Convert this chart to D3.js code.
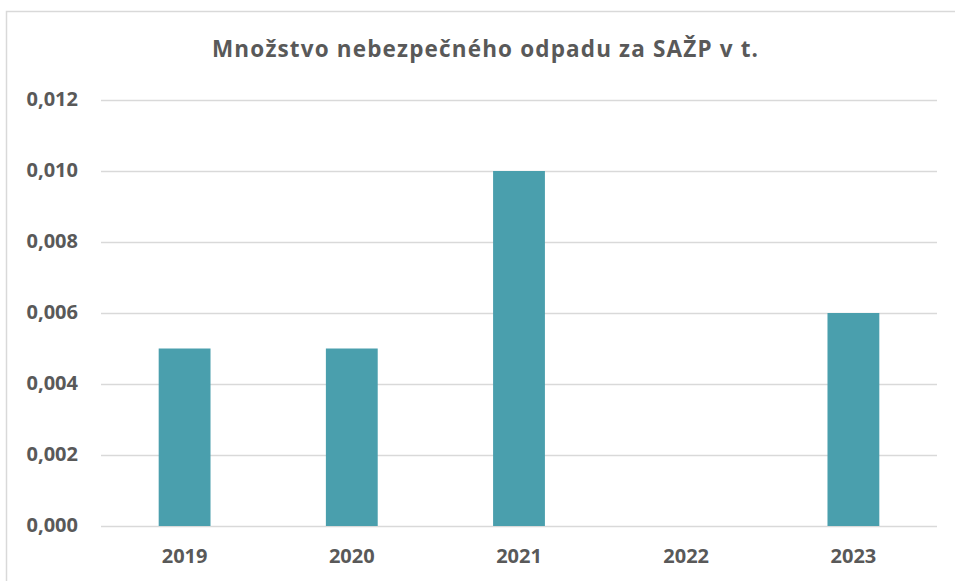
<!DOCTYPE html>
<html>
<head>
<meta charset="utf-8">
<script src="https://cdn.jsdelivr.net/npm/d3@7"></script>
<style>
  body { margin: 0; background: #fff; }
  text { font-family: "Open Sans", sans-serif; font-weight: bold; fill: #595959; }
</style>
</head>
<body>
<div id="chart"></div>
<script>
var years = ["2019", "2020", "2021", "2022", "2023"]
var values = [0.005, 0.005, 0.010, 0, 0.006]
var yTicks = [0, 0.002, 0.004, 0.006, 0.008, 0.010, 0.012]
var title = "Množstvo nebezpečného odpadu za SAŽP v t."

var width = 955, height = 581
var margin = {left: 101, right: 18, top: 100, bottom: 55}

var svg = d3.select("#chart").append("svg")
  .attr("width", width)
  .attr("height", height)

// outer frame
svg.append("rect")
  .attr("x", 6.5).attr("y", 11.5)
  .attr("width", 960).attr("height", 600)
  .attr("fill", "none")
  .attr("stroke", "#d9d9d9")
  .attr("stroke-width", 1.5)

var x = d3.scaleBand().domain(years)
  .range([margin.left, width - margin.right])
  .paddingInner(0.69).paddingOuter(0.345)

var y = d3.scaleLinear().domain([0, 0.012])
  .range([height - margin.bottom, margin.top])

var fmt = function(v){ return d3.format(".3f")(v).replace(".", ",") }

// gridlines
svg.append("g").selectAll("line").data(yTicks).enter().append("line")
  .attr("x1", margin.left).attr("x2", width - margin.right)
  .attr("y1", d => Math.round(y(d)) + 0.5).attr("y2", d => Math.round(y(d)) + 0.5)
  .attr("stroke", "#d9d9d9").attr("stroke-width", 1.3)

// y labels
svg.append("g").selectAll("text").data(yTicks).enter().append("text")
  .attr("x", 78).attr("y", d => y(d) + 6)
  .attr("text-anchor", "end")
  .style("font-size", "20px")
  .text(fmt)

// bars
svg.append("g").selectAll("rect").data(values).enter().append("rect")
  .attr("x", (d, i) => x(years[i]))
  .attr("width", x.bandwidth())
  .attr("y", d => y(d))
  .attr("height", d => y(0) - y(d))
  .attr("fill", "#4a9fad")

// x labels
svg.append("g").selectAll("text").data(years).enter().append("text")
  .attr("x", d => x(d) + x.bandwidth() / 2)
  .attr("y", 563)
  .attr("text-anchor", "middle")
  .style("font-size", "20px")
  .text(d => d)

// title
svg.append("text")
  .attr("x", 485).attr("y", 57)
  .attr("text-anchor", "middle")
  .attr("textLength", 546)
  .attr("lengthAdjust", "spacing")
  .style("font-size", "22.5px")
  .text(title)
</script>
</body>
</html>
